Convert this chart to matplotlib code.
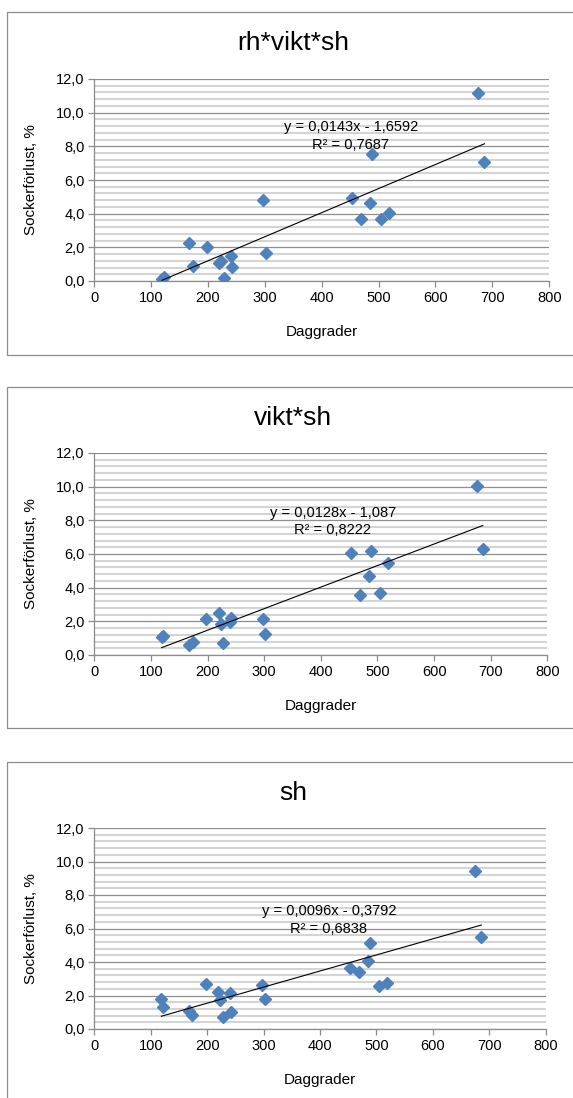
import matplotlib
matplotlib.use('Agg')
import matplotlib.pyplot as plt
from matplotlib.patches import Rectangle
from matplotlib.ticker import MultipleLocator, FuncFormatter
import numpy as np

plt.rcParams['font.family'] = ['Liberation Sans', 'DejaVu Sans']

# Data
daggrader = [119, 122, 167, 174, 198, 220, 223, 228, 240, 242,
             297, 302, 454, 469, 485, 488, 504, 519, 675, 686]

rh_vikt_sh = [0.10, 0.25, 2.24, 0.91, 2.04, 1.05, 1.19, 0.16, 1.49, 0.85,
              4.82, 1.65, 4.92, 3.71, 4.62, 7.54, 3.69, 4.01, 11.19, 7.06]
vikt_sh = [1.05, 1.10, 0.60, 0.79, 2.12, 2.48, 1.85, 0.69, 1.95, 2.20,
           2.16, 1.23, 6.07, 3.59, 4.70, 6.15, 3.71, 5.46, 10.04, 6.31]
sh = [1.81, 1.29, 1.05, 0.82, 2.67, 2.19, 1.71, 0.72, 2.13, 1.01,
      2.61, 1.81, 3.64, 3.42, 4.06, 5.15, 2.57, 2.75, 9.45, 5.47]

titles = ['rh*vikt*sh', 'vikt*sh', 'sh']
series = [rh_vikt_sh, vikt_sh, sh]
slopes = [0.0143, 0.0128, 0.0096]
intercepts = [-1.6592, -1.087, -0.3792]
equations = ['y = 0,0143x - 1,6592\nR² = 0,7687',
             'y = 0,0128x - 1,087\nR² = 0,8222',
             'y = 0,0096x - 0,3792\nR² = 0,6838']
eq_pos = [(451, 8.61), (421, 7.93), (416, 6.51)]

W, H = 573, 1098
fig = plt.figure(figsize=(W / 100, H / 100), dpi=100)

# layout in pixels (from top): box top/bottom, axes left/top/right/bottom, title y
layout = [
    (12, 355, (94.3, 79, 549.2, 281), 43),
    (387, 728, (94.3, 453, 547.4, 655), 418),
    (762, 1115, (94.3, 828, 545.6, 1029), 793),
]

blue = '#4F81BD'
comma = FuncFormatter(lambda v, p: f'{v:.1f}'.replace('.', ','))

for i in range(3):
    box_top, box_bot, (l, t, r, b), title_y = layout[i]

    # chart border
    fig.add_artist(Rectangle((7.3 / W, 1 - box_bot / H), (590 - 7.3) / W, (box_bot - box_top) / H,
                             transform=fig.transFigure, fill=False, edgecolor='#8c8c8c', lw=0.9))

    ax = fig.add_axes([l / W, 1 - b / H, (r - l) / W, (b - t) / H])
    ax.set_xlim(0, 800)
    ax.set_ylim(0, 12)
    ax.xaxis.set_major_locator(MultipleLocator(100))
    ax.yaxis.set_major_locator(MultipleLocator(2))
    ax.yaxis.set_minor_locator(MultipleLocator(0.4))
    ax.yaxis.set_major_formatter(comma)

    ax.grid(which='minor', axis='y', color='#d4d4d4', lw=1.5)
    ax.grid(which='major', axis='y', color='#8e8e8e', lw=0.9)
    ax.set_axisbelow(True)

    for s in ['top', 'right']:
        ax.spines[s].set_visible(False)
    for s in ['left', 'bottom']:
        ax.spines[s].set_color('#8c8c8c')
        ax.spines[s].set_linewidth(0.9)
    ax.tick_params(which='major', direction='out', length=4, width=0.9, color='#8c8c8c',
                   labelsize=10.5, labelcolor='black', pad=3)
    ax.tick_params(which='minor', length=0)

    ax.plot(daggrader, series[i], linestyle='none', marker='D', ms=5.8,
            color=blue, markeredgecolor=blue, zorder=3)

    # linear trend line, as given by the printed equation
    xs = np.array([min(daggrader), max(daggrader)])
    ax.plot(xs, slopes[i] * xs + intercepts[i], color='black', lw=0.8, zorder=4)

    ax.text(eq_pos[i][0], eq_pos[i][1], equations[i], ha='center', va='center',
            fontsize=10.5, linespacing=1.3, color='black', zorder=5)

    ax.set_xlabel('Daggrader', fontsize=11, color='black')
    ax.set_ylabel('Sockerförlust, %', fontsize=11, color='black')
    ax.xaxis.set_label_coords(0.5, -44 / (b - t))
    ax.yaxis.set_label_coords(-56.7 / (r - l), 0.5)

    fig.text(293 / W, 1 - title_y / H, titles[i], ha='center', va='center',
             fontsize=19, color='black')

fig.savefig('out.png', dpi=100)
